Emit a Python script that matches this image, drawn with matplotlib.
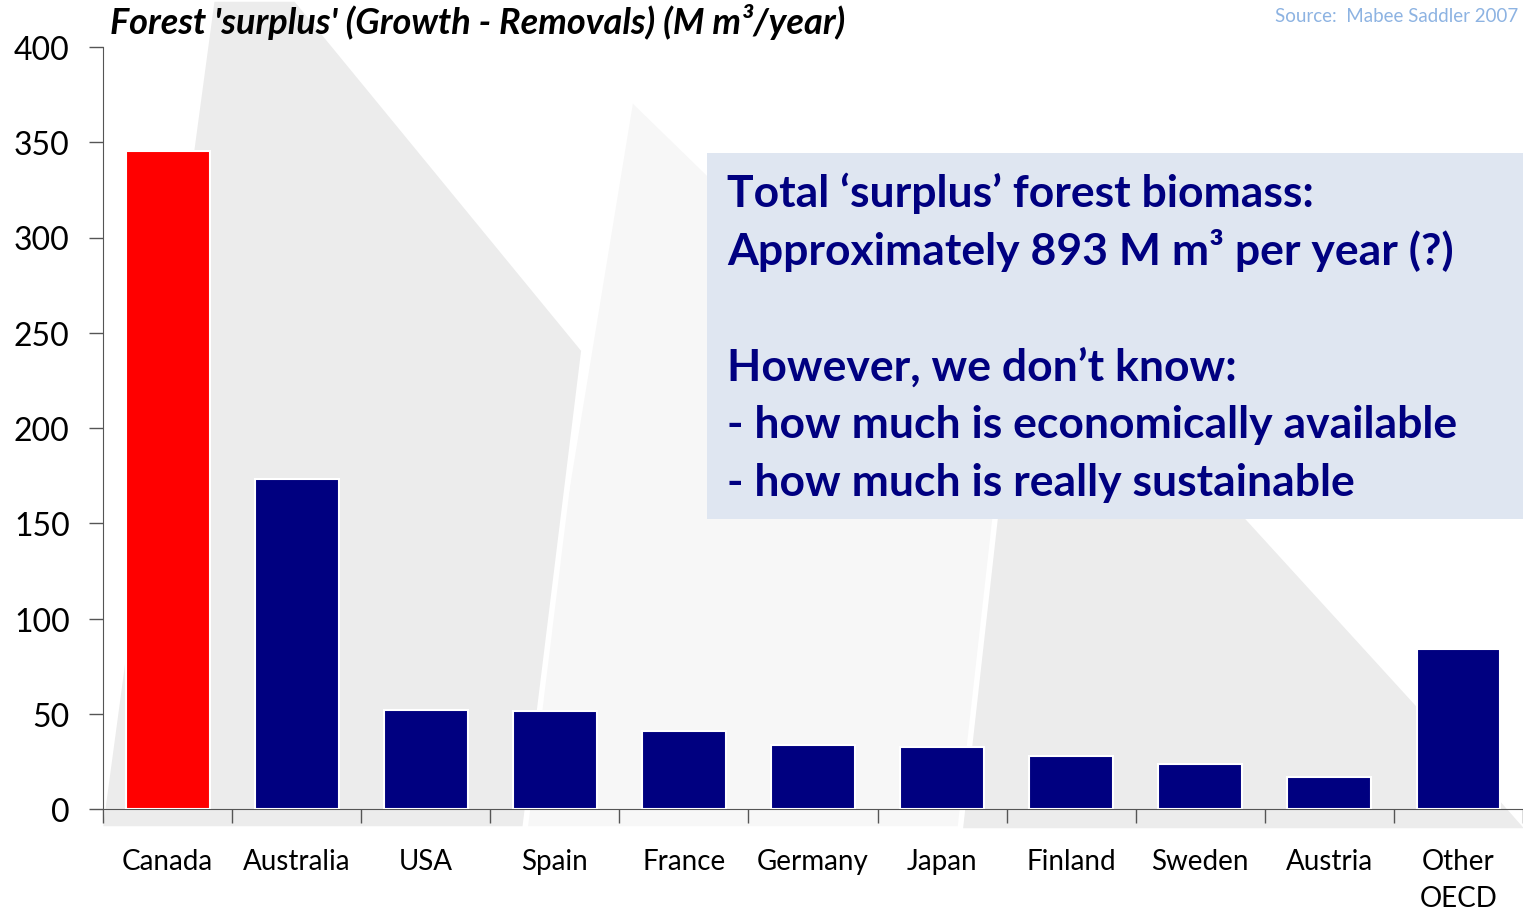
import matplotlib
matplotlib.use("Agg")
import matplotlib.pyplot as plt
from matplotlib.patches import Polygon, Rectangle

countries = ["Canada", "Australia", "USA", "Spain", "France", "Germany",
             "Japan", "Finland", "Sweden", "Austria", "Other\nOECD"]
surplus = [345.5, 173, 52, 51.5, 41, 33.5, 32.5, 28, 23.5, 17, 84]
bar_colors = ["#ff0000"] + ["#000080"] * 10
y_ticks = [0, 50, 100, 150, 200, 250, 300, 350, 400]

W, H = 1523, 912
plt.rcParams['font.family'] = ['Lato', 'DejaVu Sans']


def px(points):
    # figure pixel coords (origin top-left) -> figure fraction
    return [(x / W, 1 - y / H) for x, y in points]


def main():
    fig = plt.figure(figsize=(W / 100, H / 100), dpi=100)
    fig.patch.set_facecolor("white")

    # decorative background sails, on their own axes behind everything
    bg = fig.add_axes([0, 0, 1, 1], zorder=-1)
    bg.set_xlim(0, 1)
    bg.set_ylim(0, 1)
    bg.axis("off")
    shapes = [
        ([(631, 99), (1120, 575), (1010, 830), (511, 830)], "#f7f7f7"),
        ([(1045, 300), (1249, 520), (1416, 703), (1530, 832),
          (960, 832), (995, 520)], "#ececec"),
        ([(212, 0), (296, 0), (584, 351), (525, 830), (100, 830)], "#ececec"),
    ]
    for pts, col in shapes:
        bg.add_patch(Polygon(px(pts), closed=True, facecolor=col,
                             edgecolor="white", linewidth=4))

    ax = fig.add_axes([103 / W, 1 - 810 / H, 1 - 103 / W, (810 - 48) / H],
                      zorder=1)
    ax.set_facecolor("none")
    x = range(len(countries))
    ax.bar(x, surplus, width=0.65, color=bar_colors, edgecolor="white",
           linewidth=1.5, zorder=3)

    ax.set_xlim(-0.5, len(countries) - 0.5)
    ax.set_ylim(0, 400)
    ax.set_yticks(y_ticks)
    ax.set_yticklabels([str(v) for v in y_ticks], fontsize=23)
    ax.tick_params(axis="y", length=10, width=1, color="#555555", pad=14)

    ax.set_xticks(list(x))
    ax.set_xticklabels(countries, fontsize=20, linespacing=1.55, va="top")
    ax.tick_params(axis="x", which="major", length=0, pad=28)
    ax.set_xticks([i - 0.5 for i in range(len(countries) + 1)], minor=True)
    ax.tick_params(axis="x", which="minor", length=10, width=1,
                   color="#555555")

    for s in ["top", "right"]:
        ax.spines[s].set_visible(False)
    ax.spines["left"].set_color("#555555")
    ax.spines["bottom"].set_color("#555555")

    fig.text(110 / W, 1 - 22 / H,
             "Forest 'surplus' (Growth - Removals) (M m³/year)",
             fontsize=26, fontweight="bold", fontstyle="italic",
             va="center", ha="left", zorder=5)
    fig.text(1518 / W, 1 - 16 / H, "Source:  Mabee Saddler 2007",
             fontsize=13.5, color="#8db3e2", va="center", ha="right",
             zorder=5)

    # annotation box
    fig.patches.append(Rectangle((707 / W, 1 - 520 / H), (1523 - 707) / W,
                                 (520 - 154) / H, facecolor="#dfe6f1",
                                 edgecolor="none", transform=fig.transFigure,
                                 zorder=4))
    lines = ["Total \u2018surplus\u2019 forest biomass:",
             "Approximately 893 M m³ per year (?)",
             "",
             "However, we don\u2019t know:",
             "- how much is economically available",
             "- how much is really sustainable"]
    for i, line in enumerate(lines):
        fig.text(727 / W, 1 - (193 + 58 * i) / H, line, fontsize=32,
                 fontweight="bold", color="#000080", va="center",
                 ha="left", zorder=5)

    fig.savefig("out.png", dpi=100)


if __name__ == "__main__":
    main()
